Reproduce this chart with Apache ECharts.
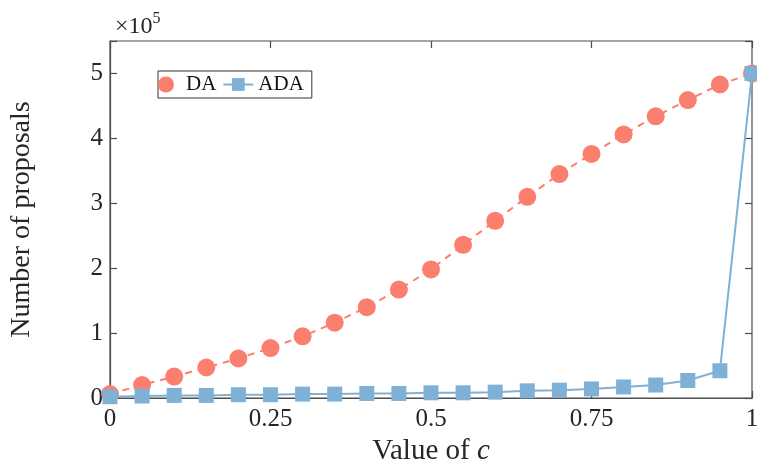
<!DOCTYPE html>
<html><head><meta charset="utf-8">
<script src="https://cdn.jsdelivr.net/npm/echarts@6/dist/echarts.min.js"></script>
<style>html,body{margin:0;padding:0;background:#fff}#c{width:757px;height:463px}</style>
</head><body><div id="c"></div>
<script>
const cValues = [0,0.05,0.1,0.15,0.2,0.25,0.3,0.35,0.4,0.45,0.5,0.55,0.6,0.65,0.7,0.75,0.8,0.85,0.9,0.95,1];
// values in units of 1e5
const daValues = [0.06,0.2,0.33,0.47,0.61,0.77,0.95,1.16,1.40,1.67,1.98,2.36,2.73,3.10,3.45,3.76,4.06,4.34,4.59,4.83,5.0];
const adaValues = [0.02,0.03,0.04,0.04,0.05,0.05,0.06,0.06,0.07,0.07,0.08,0.08,0.09,0.11,0.12,0.14,0.17,0.2,0.27,0.42,5.0];
const xTicks = [0,0.25,0.5,0.75,1];
const yTicks = [0,1,2,3,4,5];

const FONT = 'Liberation Serif';
const AX = '#4d4d4d';
const TXT = '#262626';
const chart = echarts.init(document.getElementById('c'));
const pair = (xs, ys) => xs.map((x,i)=>[x, ys[i]]);
const tick = {show:true,inside:true,length:7,lineStyle:{color:AX,width:1.2}};
chart.setOption({
  animation:false,
  textStyle:{fontFamily:FONT},
  grid:{left:110,right:5,top:41,bottom:65,show:true,borderColor:AX,borderWidth:1.2,containLabel:false,outerBoundsMode:'none'},
  title:{text:'{a|×10}{b|5}',left:110,top:6,textStyle:{fontWeight:'normal',rich:{a:{fontFamily:FONT,fontSize:24,color:TXT,verticalAlign:'bottom'},b:{fontFamily:FONT,fontSize:16,color:TXT,verticalAlign:'top',padding:[0,0,12,0]}}}},
  legend:{left:158,top:71,itemWidth:30,itemHeight:16,itemGap:6,padding:[3,8,3,0],borderColor:'#333',borderWidth:1,backgroundColor:'#fff',
    textStyle:{fontFamily:FONT,fontSize:21,color:'#111'},
    data:[{name:'DA',icon:'circle'},{name:'ADA'}]},
  xAxis:[{type:'value',min:0,max:1,interval:0.25,
    name:'Value of {i|c}',nameLocation:'middle',nameGap:39,
    nameTextStyle:{fontFamily:FONT,fontSize:29,color:TXT,rich:{i:{fontFamily:FONT,fontStyle:'italic',fontSize:29,color:TXT}}},
    axisLine:{show:true,onZero:false,lineStyle:{color:AX,width:1.2}},
    axisTick:tick,
    axisLabel:{fontFamily:FONT,fontSize:25,color:TXT,margin:9,formatter:v=>xTicks.includes(v)?String(v):''},
    splitLine:{show:false}},
    {type:'value',position:'top',min:0,max:1,interval:0.25,axisLine:{show:false,onZero:false},
    axisTick:tick,axisLabel:{show:false},splitLine:{show:false}}],
  yAxis:[{type:'value',min:0,max:5.5,interval:1,
    name:'Number of proposals',nameLocation:'middle',nameGap:74,
    nameTextStyle:{fontFamily:FONT,fontSize:28,color:TXT},
    axisLine:{show:true,onZero:false,lineStyle:{color:AX,width:1.2}},
    axisTick:tick,
    axisLabel:{fontFamily:FONT,fontSize:25,color:TXT,margin:7,formatter:v=>yTicks.includes(v)?String(v):''},
    splitLine:{show:false}},
    {type:'value',position:'right',min:0,max:5.5,interval:1,axisLine:{show:false,onZero:false},
    axisTick:tick,axisLabel:{show:false},splitLine:{show:false}}],
  series:[
    {name:'DA',type:'line',data:pair(cValues,daValues),symbol:'circle',symbolSize:18,clip:false,
     lineStyle:{color:'#fa7f6f',width:2,type:[7,6]},itemStyle:{color:'#fa7f6f'},z:2},
    {name:'ADA',type:'line',data:pair(cValues,adaValues),symbol:'rect',symbolSize:15,clip:false,
     lineStyle:{color:'#7fb1d6',width:2},itemStyle:{color:'#7fb1d6'},z:3}
  ]
});
</script></body></html>
